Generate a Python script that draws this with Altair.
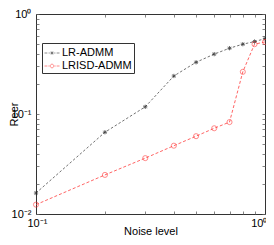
import altair as alt
import pandas as pd

noise = [0.1, 0.2, 0.3, 0.4, 0.5, 0.6, 0.7, 0.8, 0.9, 1.0]
lr_admm = [0.0162, 0.0657, 0.118, 0.240, 0.329, 0.397, 0.455, 0.499, 0.530, 0.567]
lrisd_admm = [0.0124, 0.0246, 0.0362, 0.0482, 0.060, 0.072, 0.083, 0.264, 0.499, 0.526]
series_names = ["LR-ADMM", "LRISD-ADMM"]
x_ticks = [0.1, 0.2, 0.3, 0.4, 0.5, 0.6, 0.7, 0.8, 0.9, 1.0]
y_ticks = [0.01, 0.02, 0.03, 0.04, 0.05, 0.06, 0.07, 0.08, 0.09,
           0.1, 0.2, 0.3, 0.4, 0.5, 0.6, 0.7, 0.8, 0.9, 1.0]
x_label_vals = [0.1, 1.0]
y_label_vals = [0.01, 0.1, 1.0]

df = pd.DataFrame({
    "noise": noise * 2,
    "reer": lr_admm + lrisd_admm,
    "series": [series_names[0]] * len(noise) + [series_names[1]] * len(noise),
})

FONT = "Liberation Sans"
BLACK = "#333333"
RED = "#ff3030"

sup_expr = ("datum.value >= 0.99 ? '10⁰' : (datum.value >= 0.099 ? '10⁻¹' : '10⁻²')")

xscale = alt.Scale(type="log", domain=[0.1, 1.0], nice=False)
yscale = alt.Scale(type="log", domain=[0.01, 1.0], nice=False)

base = alt.Chart(df)

# axes with labels (bottom / left)
x_lab = alt.Axis(orient="bottom", values=x_label_vals, labelExpr=sup_expr, ticks=False,
                 domain=True, domainColor="#333333", domainWidth=1, grid=False,
                 labelFont=FONT, labelFontSize=11, labelColor="#000", labelPadding=3,
                 labelAlign={"condition": {"test": "datum.value >= 0.99", "value": "right"},
                             "value": "left"},
                 labelOffset={"condition": {"test": "datum.value >= 0.99", "value": 2},
                              "value": -9},
                 labelBound=False, labelOverlap=False,
                 title="Noise level", titleFont=FONT, titleFontSize=11,
                 titleFontWeight="normal", titleColor="#000",
                 titleBaseline="alphabetic", titleY=20)
y_lab = alt.Axis(orient="left", values=y_label_vals, labelExpr=sup_expr, ticks=False,
                 domain=True, domainColor="#333333", domainWidth=1, grid=False,
                 labelFont=FONT, labelFontSize=11, labelColor="#000", labelPadding=5,
                 labelOverlap=False,
                 title="Reer", titleFont=FONT, titleFontSize=11, titleFontWeight="normal",
                 titleColor="#000", titleX=-22, titleY=100, titleBaseline="middle")
# top / right domain lines
x_top = alt.Axis(orient="top", labels=False, ticks=False, domain=True,
                 domainColor="#333333", domainWidth=1, grid=False, title=None)
y_right = alt.Axis(orient="right", labels=False, ticks=False, domain=True,
                   domainColor="#333333", domainWidth=1, grid=False, title=None)
# inward ticks via negative offset
def tick_axis(orient, vals):
    return alt.Axis(orient=orient, values=vals, labels=False, ticks=True, tickSize=3,
                    tickColor="#666666", tickWidth=0.8, domain=False, grid=False,
                    offset=-3, title=None)

line_black = base.transform_filter(alt.datum.series == series_names[0]).mark_line(
    color=BLACK, strokeWidth=0.7, strokeDash=[2.5, 2]
).encode(
    x=alt.X("noise:Q", scale=xscale, axis=x_lab),
    y=alt.Y("reer:Q", scale=yscale, axis=y_lab),
)
line_red = base.transform_filter(alt.datum.series == series_names[1]).mark_line(
    color=RED, strokeWidth=0.75, strokeDash=[3, 2]
).encode(
    x=alt.X("noise:Q", scale=xscale, axis=x_top),
    y=alt.Y("reer:Q", scale=yscale, axis=y_right),
)
ASTER = "M-1,0L1,0M0,-1L0,1M-0.7,-0.7L0.7,0.7M-0.7,0.7L0.7,-0.7"
pts_black = base.transform_filter(alt.datum.series == series_names[0]).mark_point(
    shape=ASTER, size=18, color="#222222", strokeWidth=1, filled=False
).encode(
    x=alt.X("noise:Q", scale=xscale, axis=tick_axis("bottom", x_ticks)),
    y=alt.Y("reer:Q", scale=yscale, axis=tick_axis("left", y_ticks)),
)
pts_red = base.transform_filter(alt.datum.series == series_names[1]).mark_point(
    shape="circle", size=26, color=RED, strokeWidth=0.8, filled=False
).encode(
    x=alt.X("noise:Q", scale=xscale, axis=tick_axis("top", x_ticks)),
    y=alt.Y("reer:Q", scale=yscale, axis=tick_axis("right", y_ticks)),
)

LEG_BLACK = ("M-1,0H-0.62M-0.45,0H-0.3"
             "M-0.22,0H0.22M0,-0.22V0.22M-0.16,-0.16L0.16,0.16M-0.16,0.16L0.16,-0.16"
             "M0.3,0H0.45M0.62,0H1")
LEG_RED = ("M-1,0H-0.62M-0.48,0H-0.34"
           "M0.24,0A0.24,0.24,0,1,1,-0.24,0A0.24,0.24,0,1,1,0.24,0"
           "M0.34,0H0.48M0.62,0H1")

legend_layer = base.transform_filter("false").mark_point(filled=False, strokeWidth=0.8).encode(
    color=alt.Color("series:N",
                    scale=alt.Scale(domain=series_names, range=[BLACK, RED]),
                    legend=alt.Legend(
                        title=None, orient="none", legendX=6, legendY=29,
                        labelFont=FONT, labelFontSize=11, labelColor="#000",
                        symbolSize=225, symbolStrokeWidth=0.8, labelOffset=2,
                        rowPadding=0, padding=2, strokeColor="#333333",
                        fillColor="white", cornerRadius=0)),
    shape=alt.Shape("series:N",
                    scale=alt.Scale(domain=series_names, range=[LEG_BLACK, LEG_RED]),
                    legend=alt.Legend(title=None, orient="none", legendX=6, legendY=29)),
)

chart = alt.layer(line_black, line_red, pts_black, pts_red, legend_layer).resolve_axis(
    x="independent", y="independent"
).properties(
    width=229, height=200,
    autosize=alt.AutoSizeParams(type="none"),
    padding={"left": 28, "top": 6, "right": 1, "bottom": 22},
).configure_view(stroke=None).configure(background="white")

chart.save("out.html", embed_options={"renderer": "svg", "actions": False})
